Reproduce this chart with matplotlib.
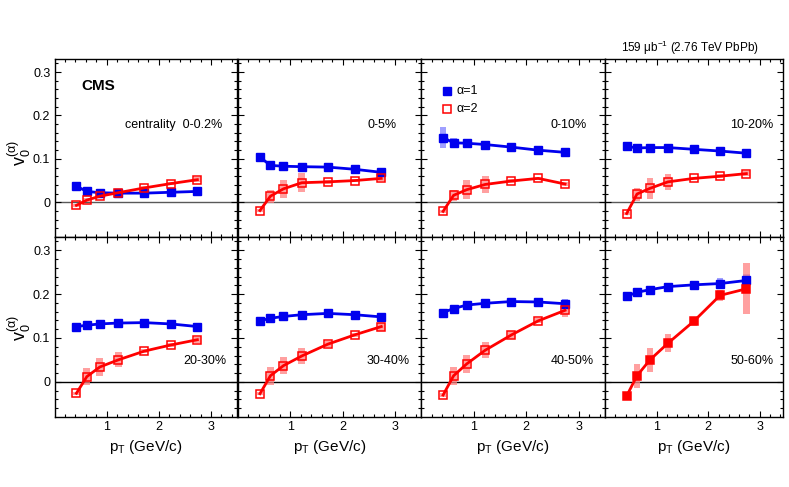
import matplotlib
matplotlib.use("Agg")
import matplotlib.pyplot as plt
import numpy as np

plt.rcParams['font.family'] = ['Liberation Sans', 'DejaVu Sans']
plt.rcParams['mathtext.fontset'] = 'custom'
plt.rcParams['mathtext.rm'] = 'Liberation Sans'
plt.rcParams['mathtext.it'] = 'Liberation Sans:italic'
plt.rcParams['mathtext.bf'] = 'Liberation Sans:bold'

# pT bin centres (GeV/c)
pt = [0.42, 0.62, 0.87, 1.22, 1.72, 2.23, 2.74]

centralities = ['0-0.2%', '0-5%', '0-10%', '10-20%',
                '20-30%', '30-40%', '40-50%', '50-60%']

# alpha = 1 values and systematic half-widths
v0_a1 = [
    [0.037, 0.025, 0.022, 0.021, 0.021, 0.023, 0.025],
    [0.104, 0.085, 0.083, 0.082, 0.081, 0.076, 0.069],
    [0.149, 0.137, 0.136, 0.133, 0.127, 0.120, 0.115],
    [0.129, 0.125, 0.126, 0.126, 0.122, 0.118, 0.113],
    [0.126, 0.129, 0.132, 0.134, 0.135, 0.132, 0.126],
    [0.139, 0.145, 0.149, 0.153, 0.156, 0.153, 0.148],
    [0.158, 0.167, 0.175, 0.179, 0.183, 0.182, 0.178],
    [0.195, 0.204, 0.210, 0.217, 0.221, 0.224, 0.231],
]
sys_a1 = [
    [0.004, 0.004, 0.004, 0.004, 0.004, 0.004, 0.006],
    [0.004, 0.004, 0.004, 0.004, 0.004, 0.004, 0.005],
    [0.025, 0.010, 0.008, 0.008, 0.006, 0.006, 0.006],
    [0.004, 0.004, 0.004, 0.004, 0.004, 0.004, 0.005],
    [0.004, 0.004, 0.004, 0.004, 0.005, 0.005, 0.007],
    [0.004, 0.004, 0.004, 0.005, 0.006, 0.008, 0.009],
    [0.004, 0.004, 0.004, 0.005, 0.007, 0.009, 0.011],
    [0.004, 0.005, 0.005, 0.006, 0.008, 0.013, 0.015],
]

# alpha = 2 values and systematic half-widths
v0_a2 = [
    [-0.007, 0.005, 0.014, 0.022, 0.033, 0.043, 0.052],
    [-0.019, 0.014, 0.031, 0.045, 0.047, 0.050, 0.055],
    [-0.021, 0.016, 0.029, 0.041, 0.049, 0.055, 0.042],
    [-0.026, 0.019, 0.032, 0.047, 0.055, 0.060, 0.066],
    [-0.026, 0.012, 0.034, 0.050, 0.070, 0.084, 0.096],
    [-0.027, 0.014, 0.037, 0.059, 0.086, 0.107, 0.126],
    [-0.030, 0.014, 0.041, 0.072, 0.107, 0.139, 0.163],
    [-0.032, 0.014, 0.050, 0.088, 0.138, 0.197, 0.212],
]
sys_a2 = [
    [0.004, 0.004, 0.004, 0.004, 0.004, 0.004, 0.006],
    [0.004, 0.015, 0.021, 0.022, 0.005, 0.004, 0.005],
    [0.004, 0.013, 0.022, 0.019, 0.004, 0.004, 0.005],
    [0.004, 0.015, 0.024, 0.019, 0.004, 0.004, 0.006],
    [0.004, 0.019, 0.021, 0.017, 0.005, 0.004, 0.007],
    [0.004, 0.020, 0.020, 0.018, 0.007, 0.005, 0.009],
    [0.005, 0.020, 0.020, 0.018, 0.010, 0.006, 0.015],
    [0.005, 0.027, 0.028, 0.020, 0.010, 0.013, 0.058],
]

# label x-positions (right edge, data units)
label_x = [3.22, 3.03, 3.15, 3.27, 3.30, 3.29, 3.29, 3.26]

W, H = 789, 487
fig = plt.figure(figsize=(W / 100, H / 100), dpi=100)

col_left = [54.5, 238, 421, 605]
col_right = [237, 421, 605, 783]
row_top = [59, 237]
row_bot = [237, 417]

blue = '#0000ee'
red = '#ff0000'

for i in range(8):
    r, c = divmod(i, 4)
    x0, x1 = col_left[c], col_right[c]
    y0, y1 = row_bot[r], row_top[r]
    ax = fig.add_axes([x0 / W, 1 - y0 / H, (x1 - x0) / W, (y0 - y1) / H])

    xmax = 3.45 if c == 3 else 3.5
    ax.set_xlim(0, xmax)
    ax.set_ylim(-0.08, 0.33)

    ax.axhline(0, color='0.35' if r == 0 else 'black', lw=1, zorder=1)

    # systematic bands
    a1 = np.array(v0_a1[i]); s1 = np.array(sys_a1[i])
    a2 = np.array(v0_a2[i]); s2 = np.array(sys_a2[i])
    ax.bar(pt, 2 * s1, bottom=a1 - s1, width=0.13, color='#8080ff',
           alpha=0.75, lw=0, zorder=2)
    ax.bar(pt, 2 * s2, bottom=a2 - s2, width=0.13, color='#ff8080',
           alpha=0.75, lw=0, zorder=2)

    ax.plot(pt, a1, '-s', color=blue, lw=2, ms=5.5, mfc=blue, mec=blue,
            zorder=3)
    face = red if i == 7 else 'none'
    ax.plot(pt, a2, '-s', color=red, lw=2, ms=5.5, mfc=face, mec=red,
            mew=1.1, zorder=4)

    lab = centralities[i]
    if i == 0:
        lab = 'centrality  ' + lab
    ly = 0.178 if r == 0 else 0.047
    ax.text(label_x[i], ly, lab, ha='right', va='center', fontsize=9)

    # ticks
    ax.set_xticks([1, 2, 3])
    ax.set_xticks(np.arange(0.2, xmax, 0.2), minor=True)
    ax.set_yticks([0, 0.1, 0.2, 0.3])
    ax.set_yticks(np.arange(-0.06, 0.33, 0.02), minor=True)
    ax.tick_params(which='both', direction='in', top=True, right=True,
                   labelsize=9, pad=3)
    ax.tick_params(which='major', length=4.5, width=0.8)
    ax.tick_params(which='minor', length=2.3, width=0.8)
    ax.set_yticklabels(['0', '0.1', '0.2', '0.3'])
    if c != 0:
        ax.tick_params(labelleft=False)
    if r == 0:
        ax.tick_params(labelbottom=False)
    for sp in ax.spines.values():
        sp.set_linewidth(1.0)

    if i == 0:
        ax.text(0.83, 0.267, 'CMS', fontsize=11, fontweight='bold',
                ha='center', va='center')
    if i == 2:
        ax.plot([0.5], [0.256], 's', color=blue, ms=5.5)
        ax.plot([0.5], [0.214], 's', color=red, ms=5.5, mfc='none', mew=1.1)
        ax.text(0.68, 0.256, 'α=1', fontsize=9, va='center')
        ax.text(0.68, 0.214, 'α=2', fontsize=9, va='center')
    if r == 1:
        ax.text(0.5, -0.165, r'$\mathregular{p_T}$ (GeV/c)', fontsize=11,
                ha='center', va='center', transform=ax.transAxes)

fig.text(19 / W, 1 - 153 / H, r'$\mathregular{v_0^{(\alpha)}}$', rotation=90,
         fontsize=13, ha='center', va='center')
fig.text(19 / W, 1 - 328 / H, r'$\mathregular{v_0^{(\alpha)}}$', rotation=90,
         fontsize=13, ha='center', va='center')
fig.text(690 / W, 1 - 48 / H, r'159 $\mathregular{\mu b^{-1}}$ (2.76 TeV PbPb)',
         fontsize=8.5, ha='center', va='center')

fig.savefig('out.png', dpi=100)
